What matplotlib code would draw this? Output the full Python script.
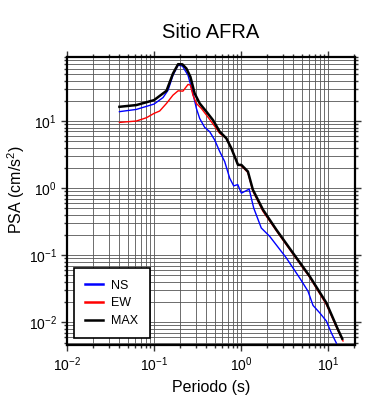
import matplotlib
matplotlib.use("Agg")
import matplotlib.pyplot as plt
from matplotlib.ticker import LogLocator, NullFormatter

plt.rcParams["font.family"] = ["Liberation Sans", "DejaVu Sans"]
plt.rcParams["mathtext.fontset"] = "custom"
plt.rcParams["mathtext.rm"] = "Liberation Sans"
plt.rcParams["mathtext.it"] = "Liberation Sans:italic"

# periods (s) and spectral accelerations (cm/s^2)
t_ns = [0.040, 0.0626, 0.1, 0.127, 0.145, 0.165, 0.189, 0.212, 0.246, 0.28,
        0.307, 0.335, 0.382, 0.436, 0.498, 0.569, 0.649, 0.741, 0.824, 0.917,
        1.01, 1.24, 1.40, 1.71, 2.14, 3.32, 4.72, 5.89, 6.73, 8.02, 9.57,
        10.9, 12.5]
sa_ns = [13.8, 14.9, 17.9, 22.4, 28.8, 48, 68, 66, 48, 25.8,
         15.4, 10.9, 8.05, 6.95, 5.22, 3.51, 2.49, 1.41, 1.08, 1.13,
         0.843, 0.966, 0.505, 0.255, 0.191, 0.0912, 0.046, 0.0292, 0.0179, 0.0139, 0.0105,
         0.00703, 0.0049]

t_ew = [0.040, 0.0626, 0.0817, 0.1, 0.116, 0.139, 0.165, 0.189, 0.215, 0.246,
        0.262, 0.28, 0.307, 0.35, 0.4, 0.477, 0.569, 0.678, 0.774, 0.924,
        1.01, 1.2, 1.37, 1.79, 2.55, 3.96, 6.15, 9.57, 13.0, 14.9]
sa_ew = [9.55, 10.0, 11.2, 13.0, 14.1, 18.3, 24.3, 28.2, 27.9, 35.1,
         34.3, 24.3, 18.3, 15.4, 12.3, 9.02, 6.56, 5.53, 3.93, 2.22,
         2.15, 1.71, 0.9, 0.45, 0.232, 0.104, 0.047, 0.0185, 0.0076, 0.00528]

t_max = [0.040, 0.0626, 0.1, 0.139, 0.165, 0.189, 0.212, 0.236, 0.262, 0.293,
         0.335, 0.4, 0.477, 0.569, 0.678, 0.774, 0.924, 1.01, 1.2, 1.37,
         1.79, 2.55, 3.96, 6.15, 9.57, 13.0, 14.6]
sa_max = [16.3, 17.3, 20.5, 28.2, 51, 70.3, 70, 60.5, 45.5, 25.8,
          18.3, 13.8, 10.3, 6.95, 5.53, 3.93, 2.22, 2.22, 1.77, 0.944,
          0.477, 0.24, 0.108, 0.0488, 0.0196, 0.00787, 0.0057]

fig = plt.figure(figsize=(3.9, 4.0), dpi=100)
ax = fig.add_axes([0.172, 0.1375, 0.738, 0.72])

ax.plot(t_ns, sa_ns, color="#0000ff", lw=1.0, label="NS")
ax.plot(t_ew, sa_ew, color="#ff0000", lw=1.0, label="EW")
ax.plot(t_max, sa_max, color="black", lw=1.8, label="MAX")

ax.set_xscale("log")
ax.set_yscale("log")
ax.set_xlim(0.01, 20.4)
ax.set_ylim(0.0046, 90)

for axis in (ax.xaxis, ax.yaxis):
    axis.set_major_locator(LogLocator(base=10, numticks=10))
    axis.set_minor_locator(LogLocator(base=10, subs=range(2, 10), numticks=20))
    axis.set_minor_formatter(NullFormatter())

ax.grid(True, which="both", color="#555555", lw=0.6)
ax.set_axisbelow(True)
ax.tick_params(which="both", direction="out", top=True, right=True,
               labelsize=10, width=1, color="#333333")
ax.tick_params(which="major", length=4)
ax.tick_params(which="minor", length=2)
for s in ax.spines.values():
    s.set_linewidth(1.6)

ax.set_xlabel("Periodo (s)", fontsize=11.5)
ax.set_ylabel("PSA (cm/s$^2$)", fontsize=11.5)
ax.yaxis.set_label_coords(-0.14, 0.54)
ax.set_title("Sitio AFRA", fontsize=14.5, pad=14)

leg = ax.legend(loc="lower left", fontsize=9, fancybox=False, framealpha=1,
                edgecolor="black", handlelength=1.4, handletextpad=0.7,
                borderpad=0.9, labelspacing=0.45, borderaxespad=0.55)
leg.get_frame().set_linewidth(1.2)
for h in leg.get_lines():
    h.set_linewidth(1.8)

fig.savefig("out.png", dpi=100)
